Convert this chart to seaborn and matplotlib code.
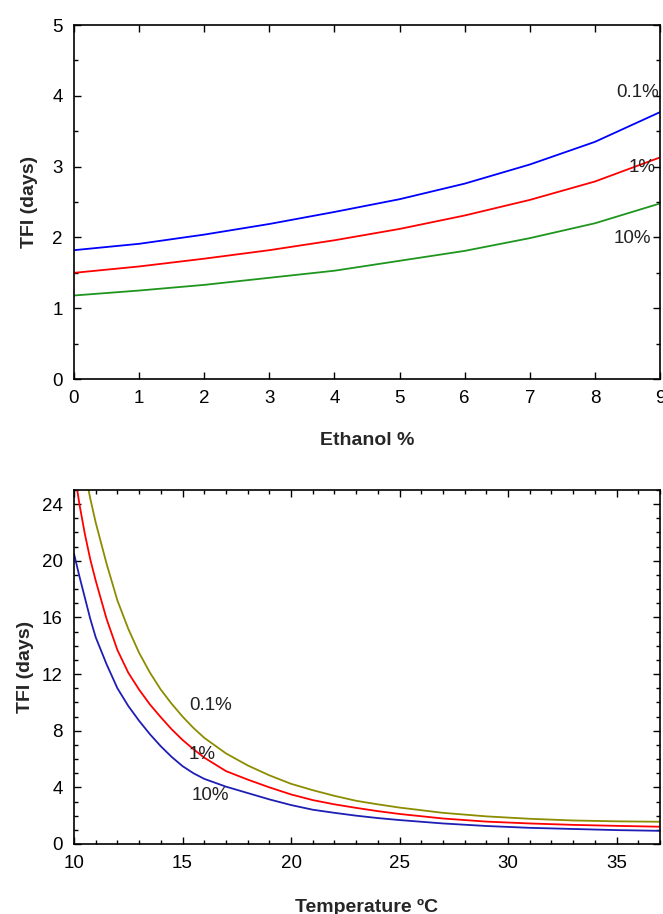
import numpy as np
import pandas as pd
import matplotlib
matplotlib.use("Agg")
import matplotlib.pyplot as plt
import seaborn as sns
from matplotlib.ticker import MultipleLocator

# ---------------- data: top panel (TFI vs ethanol) ----------------
ethanol = [0, 1, 2, 3, 4, 5, 6, 7, 8, 9]
top_01 = [1.82, 1.91, 2.04, 2.19, 2.36, 2.54, 2.76, 3.03, 3.35, 3.77]
top_1 = [1.50, 1.59, 1.70, 1.82, 1.96, 2.12, 2.31, 2.53, 2.79, 3.13]
top_10 = [1.18, 1.25, 1.33, 1.43, 1.53, 1.67, 1.81, 1.99, 2.20, 2.48]

# ---------------- data: bottom panel (TFI vs temperature) ----------------
temperature = [10, 10.25, 10.5, 10.75, 11, 11.5, 12, 12.5, 13, 13.5, 14, 14.5,
               15, 15.5, 16, 17, 18, 19, 20, 21, 22, 23, 24, 25, 27, 29, 31,
               33, 35, 37]
bot_01 = [31.0, 28.5, 26.3, 24.4, 22.7, 19.8, 17.2, 15.2, 13.5, 12.1, 10.9, 9.9,
          9.0, 8.2, 7.5, 6.4, 5.55, 4.85, 4.25, 3.8, 3.4, 3.05, 2.8, 2.57,
          2.2, 1.95, 1.78, 1.66, 1.6, 1.57]
bot_1 = [26.5, 24.0, 21.9, 20.1, 18.6, 15.9, 13.7, 12.1, 10.9, 9.85, 8.95, 8.1,
         7.35, 6.7, 6.1, 5.15, 4.55, 4.0, 3.5, 3.1, 2.8, 2.55, 2.32, 2.12,
         1.8, 1.58, 1.45, 1.35, 1.28, 1.22]
bot_10 = [20.5, 18.9, 17.4, 15.9, 14.6, 12.7, 11.0, 9.75, 8.7, 7.75, 6.9, 6.15,
          5.5, 5.0, 4.6, 4.05, 3.6, 3.15, 2.75, 2.42, 2.2, 2.0, 1.83, 1.69,
          1.45, 1.27, 1.14, 1.06, 0.98, 0.93]

series_names = ["0.1%", "1%", "10%"]
top_colors = ["#0000FF", "#FF0000", "#1E961E"]
bot_colors = ["#8C8C00", "#FF0000", "#1E1EB4"]

top_df = pd.concat([
    pd.DataFrame({"x": ethanol, "y": v, "s": n})
    for v, n in zip([top_01, top_1, top_10], series_names)
])
bot_df = pd.concat([
    pd.DataFrame({"x": temperature, "y": v, "s": n})
    for v, n in zip([bot_01, bot_1, bot_10], series_names)
])

sns.set_style("ticks")
plt.rcParams["font.family"] = ["Liberation Sans", "DejaVu Sans"]

fig = plt.figure(figsize=(6.63, 9.14), dpi=100)
ax1 = fig.add_axes([0.1116, 0.5853, 0.8839, 0.3873])
ax2 = fig.add_axes([0.1116, 0.0766, 0.8839, 0.3873])

sns.lineplot(data=top_df, x="x", y="y", hue="s", palette=top_colors,
             linewidth=1.3, ax=ax1, legend=False, sort=False)
sns.lineplot(data=bot_df, x="x", y="y", hue="s", palette=bot_colors,
             linewidth=1.3, ax=ax2, legend=False, sort=False)

for ax in (ax1, ax2):
    for sp in ax.spines.values():
        sp.set_visible(True)
        sp.set_linewidth(1.2)
        sp.set_color("black")
    ax.tick_params(which="both", direction="in", top=True, right=True,
                   labelsize=13.5, colors="black", width=1.0)
    ax.tick_params(which="major", length=5, pad=8)
    ax.tick_params(which="minor", length=3)

ax1.set_xlim(0, 9)
ax1.set_ylim(0, 5)
ax1.xaxis.set_major_locator(MultipleLocator(1))
ax1.yaxis.set_major_locator(MultipleLocator(1))
ax1.yaxis.set_minor_locator(MultipleLocator(0.5))
ax1.set_xlabel("Ethanol %", fontsize=14, fontweight="bold", labelpad=18)
ax1.set_ylabel("TFI (days)", fontsize=14, fontweight="bold", labelpad=10)

ax2.set_xlim(10, 37)
ax2.set_ylim(0, 25)
ax2.xaxis.set_major_locator(MultipleLocator(5))
ax2.xaxis.set_minor_locator(MultipleLocator(1))
ax2.yaxis.set_major_locator(MultipleLocator(4))
ax2.yaxis.set_minor_locator(MultipleLocator(1))
ax2.set_xlabel("Temperature ºC", fontsize=14, fontweight="bold", labelpad=19)
ax2.set_ylabel("TFI (days)", fontsize=14, fontweight="bold", labelpad=6)

# curve labels
top_label_pos = [(8.65, 4.05), (8.73, 2.99), (8.58, 1.99)]
for n, (x, y) in zip(series_names, top_label_pos):
    ax1.text(x, y, n, fontsize=13.5, ha="center", va="center", color="#222222")
bot_label_pos = [(16.3, 9.8), (15.9, 6.35), (16.3, 3.4)]
for n, (x, y) in zip(series_names, bot_label_pos):
    ax2.text(x, y, n, fontsize=13.5, ha="center", va="center", color="#222222")

fig.savefig("out.png", dpi=100)
